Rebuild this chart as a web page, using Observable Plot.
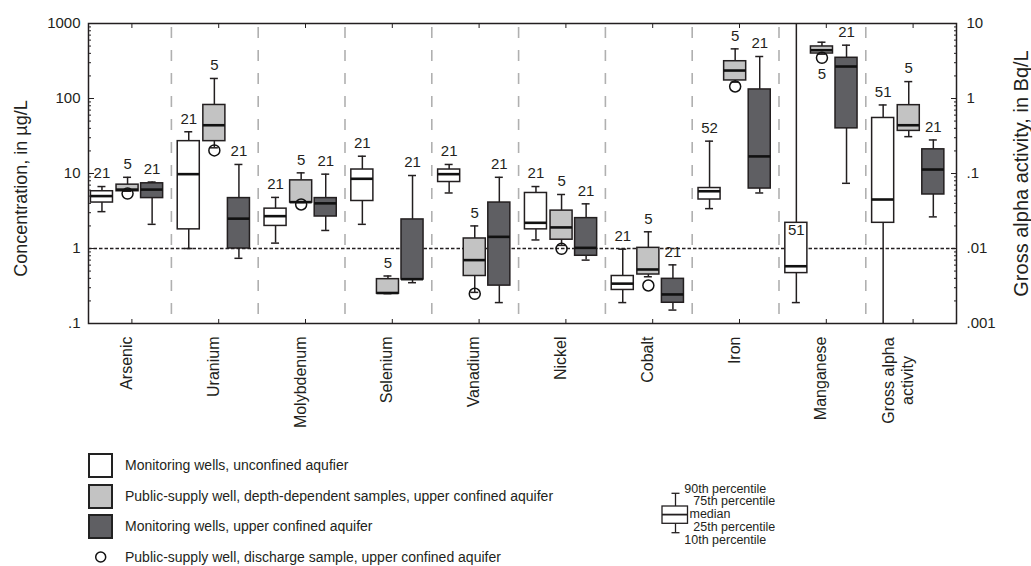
<!DOCTYPE html>
<html>
<head>
<meta charset="utf-8">
<script src="https://cdn.jsdelivr.net/npm/d3@7"></script>
<script src="https://cdn.jsdelivr.net/npm/@observablehq/plot@0.6"></script>
<style>
  body { margin: 0; background: #fff; font-family: "Liberation Sans", Arial, sans-serif; color: #231f20; }
  #wrap { position: relative; width: 1031px; height: 566px; overflow: hidden; background: #fff; }
  #chart { position: absolute; left: 0; top: 0; }
  .lg-sq { position: absolute; width: 25px; height: 25px; box-sizing: border-box; border: 2px solid #222; }
  .lg-tx { position: absolute; font-size: 14px; line-height: 16px; white-space: nowrap; }
  #key { position: absolute; left: 0; top: 0; }
</style>
</head>
<body>
<div id="wrap">
  <div id="chart"></div>
  <div id="legend"></div>
  <svg id="key" width="1031" height="566"></svg>
</div>
<script>
// ---------------- data ----------------
const categories = ["Arsenic", "Uranium", "Molybdenum", "Selenium", "Vanadium", "Nickel", "Cobalt", "Iron", "Manganese", "Gross alpha\nactivity"];
const units = ["µg/L", "µg/L", "µg/L", "µg/L", "µg/L", "µg/L", "µg/L", "µg/L", "µg/L", "Bq/L"];

const seriesNames = [
  "Monitoring wells, unconfined aqufier",
  "Public-supply well, depth-dependent samples, upper confined aquifer",
  "Monitoring wells, upper confined aquifer"
];
const dischargeName = "Public-supply well, discharge sample, upper confined aquifer";

// Monitoring wells, unconfined aquifer
const unconfinedP10 = [3.1, 1.0, 1.18, 2.1, 5.5, 1.3, 0.19, 3.4, 0.19, 0.0005];
const unconfinedP25 = [4.1, 1.8, 2.0, 4.3, 7.7, 1.8, 0.28, 4.5, 0.47, 0.022];
const unconfinedP50 = [5.0, 9.8, 2.7, 8.5, 9.8, 2.2, 0.34, 5.8, 0.58, 0.045];
const unconfinedP75 = [5.8, 27, 3.4, 11.3, 11.3, 5.5, 0.43, 6.4, 2.2, 0.55];
const unconfinedP90 = [6.7, 36, 4.8, 17, 13.2, 6.7, 0.98, 27, 1500, 0.82];
const unconfinedN   = [21, 21, 21, 21, 21, 21, 21, 52, 51, 51];

// Public-supply well, depth-dependent samples
const depthP10 = [5.8, 22, 4.1, 0.25, 0.26, 1.1, 0.42, 165, 390, 0.31];
const depthP25 = [5.8, 27, 4.1, 0.25, 0.43, 1.31, 0.45, 174, 398, 0.37];
const depthP50 = [6.1, 44, 4.15, 0.255, 0.70, 1.91, 0.525, 236, 440, 0.44];
const depthP75 = [7.1, 82, 8.1, 0.39, 1.36, 3.2, 1.02, 314, 494, 0.815];
const depthP90 = [8.9, 185, 10.2, 0.43, 2.0, 5.25, 1.67, 459, 563, 1.68];
const depthN   = [5, 5, 5, 5, 5, 5, 5, 5, 5, 5];

// Monitoring wells, upper confined aquifer
const confinedP10 = [2.1, 0.74, 1.74, 0.35, 0.19, 0.70, 0.151, 5.5, 7.4, 0.0264];
const confinedP25 = [4.7, 1.0, 2.67, 0.386, 0.32, 0.80, 0.189, 6.3, 40, 0.0525];
const confinedP50 = [6.1, 2.5, 4.0, 0.39, 1.43, 1.02, 0.244, 16.9, 267, 0.113];
const confinedP75 = [7.4, 4.7, 4.7, 2.44, 4.1, 2.54, 0.394, 132, 349, 0.21];
const confinedP90 = [7.7, 13.2, 9.8, 9.4, 8.9, 3.94, 0.605, 363, 514, 0.28];
const confinedN   = [21, 21, 21, 21, 21, 21, 21, 21, 21, 21];

// Public-supply well, discharge sample
const dischargeValues = [5.4, 20.3, 3.86, null, 0.249, 0.99, 0.321, 144.5, 349, null];

// axis ticks
const leftTickLabels  = ["1000", "100", "10", "1", ".1"];
const rightTickLabels = ["10", "1", ".1", ".01", ".001"];
const referenceLevel = [1];
const keyLabels = ["90th percentile", "75th percentile", "median", "25th percentile", "10th percentile"];

// ---------------- build ----------------
const fills = ["#ffffff", "#c3c3c3", "#5f5f63"];
const ink = "#231f20";
const bqToAxis = 100; // 1 Bq/L on the right axis lines up with 100 µg/L on the left axis
const conv = (v, i) => v == null ? null : (units[i] === "Bq/L" ? v * bqToAxis : v);

const seriesData = [
  [unconfinedP10, unconfinedP25, unconfinedP50, unconfinedP75, unconfinedP90, unconfinedN],
  [depthP10, depthP25, depthP50, depthP75, depthP90, depthN],
  [confinedP10, confinedP25, confinedP50, confinedP75, confinedP90, confinedN]
];
const offsets = [-0.345, -0.05, 0.233];
const hw = 0.127;   // half box width (in category units)
const cap = 0.046;  // half cap width

const rows = [];
seriesData.forEach(([p10, p25, p50, p75, p90, n], s) => {
  categories.forEach((c, i) => {
    rows.push({
      series: seriesNames[s], s, i, xc: i + offsets[s],
      p10: conv(p10[i], i), p25: conv(p25[i], i), p50: conv(p50[i], i),
      p75: conv(p75[i], i), p90: conv(p90[i], i), n: String(n[i])
    });
  });
});
const discharge = dischargeValues
  .map((v, i) => ({i, xc: i + offsets[1], v: conv(v, i)}))
  .filter(d => d.v != null);

const majorTicks = leftTickLabels.map((_, k) => Math.pow(10, 3 - k));
const leftLab = new Map(majorTicks.map((t, k) => [t, leftTickLabels[k]]));
const rightLab = new Map(majorTicks.map((t, k) => [t, rightTickLabels[k]]));
const minorTicks = [];
[0.1, 1, 10, 100].forEach(d => { for (let k = 2; k <= 9; k++) minorTicks.push(d * k); });
const catIdx = d3.range(categories.length);

const plot = Plot.plot({
  width: 1031, height: 440,
  marginLeft: 88, marginRight: 75, marginTop: 23, marginBottom: 117,
  style: {fontFamily: "'Liberation Sans', Arial, sans-serif", fontSize: "15px", color: ink, background: "white"},
  x: {type: "linear", domain: [-0.5, categories.length - 0.5]},
  y: {type: "log", domain: [0.1, 1000]},
  color: {domain: seriesNames, range: fills},
  marks: [
    // separators
    Plot.ruleX(d3.range(categories.length - 1), {x: i => i + 0.455, stroke: "#b0b0b0", strokeWidth: 1.6, strokeDasharray: "11,12", strokeDashoffset: -4}),
    Plot.ruleY(referenceLevel, {stroke: ink, strokeWidth: 1.3, strokeDasharray: "3.5,2"}),
    // whiskers
    Plot.ruleX(rows, {x: "xc", y1: "p75", y2: "p90", stroke: ink, strokeWidth: 1.5, clip: true}),
    Plot.ruleX(rows, {x: "xc", y1: "p10", y2: "p25", stroke: ink, strokeWidth: 1.5, clip: true}),
    Plot.ruleY(rows, {y: "p90", x1: d => d.xc - cap, x2: d => d.xc + cap, stroke: ink, strokeWidth: 1.5, clip: true}),
    Plot.ruleY(rows, {y: "p10", x1: d => d.xc - cap, x2: d => d.xc + cap, stroke: ink, strokeWidth: 1.5, clip: true}),
    // boxes
    Plot.rect(rows, {x1: d => d.xc - hw, x2: d => d.xc + hw, y1: "p25", y2: "p75", fill: "series", stroke: ink, strokeWidth: 1.5}),
    Plot.ruleY(rows, {y: "p50", x1: d => d.xc - hw, x2: d => d.xc + hw, stroke: "#111", strokeWidth: 2.6}),
    // discharge samples
    Plot.dot(discharge, {x: "xc", y: "v", r: 5.5, stroke: "#111", strokeWidth: 1.5, fill: "none"}),
    // sample counts
    Plot.text(rows.filter(d => d.p90 < 540), {x: "xc", y: "p90", text: "n", dy: -13, fontSize: 15, fill: ink}),
    Plot.text(rows.filter(d => d.p90 >= 540 && d.p90 < 1000), {x: "xc", y: "p10", text: "n", dy: 20, fontSize: 15, fill: ink}),
    Plot.text(rows.filter(d => d.p90 >= 1000), {x: "xc", y: "p75", text: "n", dy: 7, fontSize: 15, fill: ink}),
    // frame and axes
    Plot.frame({stroke: ink, strokeWidth: 1.5}),
    Plot.axisY(majorTicks, {anchor: "left", tickSize: -6, tickFormat: () => "", label: null, stroke: ink}),
    Plot.axisY(minorTicks, {anchor: "left", tickSize: -3, tickFormat: () => "", label: null, stroke: ink}),
    Plot.axisY(majorTicks, {anchor: "left", tickSize: 0, tickPadding: 8, tickFormat: d => leftLab.get(d), label: null, fontSize: 15, fill: ink}),
    Plot.axisY(majorTicks, {anchor: "right", tickSize: -6, tickFormat: () => "", label: null, stroke: ink}),
    Plot.axisY(minorTicks, {anchor: "right", tickSize: -3, tickFormat: () => "", label: null, stroke: ink}),
    Plot.axisY(majorTicks, {anchor: "right", tickSize: 0, tickPadding: 10, tickFormat: d => rightLab.get(d), label: null, fontSize: 15, fill: ink}),
    Plot.axisX(catIdx, {anchor: "top", tickSize: -4, tickFormat: () => "", label: null, stroke: ink}),
    Plot.axisX(catIdx, {anchor: "bottom", tickSize: -4, tickFormat: () => "", label: null, stroke: ink}),
    // category labels
    Plot.text(catIdx.filter(i => !categories[i].includes("\n")), {x: d => d, frameAnchor: "bottom", text: i => categories[i], rotate: -90, textAnchor: "end", dy: 13, fontSize: 16, fill: ink}),
    Plot.text(catIdx.filter(i => categories[i].includes("\n")), {x: d => d, frameAnchor: "bottom", text: i => categories[i], rotate: -90, textAnchor: "middle", lineHeight: 1.2, dy: 57, fontSize: 16, fill: ink}),
    // axis titles
    Plot.text(["Concentration, in µg/L"], {frameAnchor: "left", text: d => d, rotate: -90, textAnchor: "middle", dx: -67, dy: 15, fontSize: 18, fill: ink}),
    Plot.text(["Gross alpha activity, in Bq/L"], {frameAnchor: "right", text: d => d, rotate: -90, textAnchor: "middle", dx: 65, dy: 0, fontSize: 20, fill: ink})
  ]
});
document.getElementById("chart").appendChild(plot);

// ---------------- legend ----------------
const legend = document.getElementById("legend");
const rowCenters = [465, 496, 526, 557];
seriesNames.forEach((name, s) => {
  const sq = document.createElement("div");
  sq.className = "lg-sq";
  sq.style.left = "88px";
  sq.style.top = (rowCenters[s] - 12.5) + "px";
  sq.style.background = fills[s];
  legend.appendChild(sq);
  const tx = document.createElement("div");
  tx.className = "lg-tx";
  tx.style.left = "125px";
  tx.style.top = (rowCenters[s] - 8) + "px";
  tx.textContent = name;
  legend.appendChild(tx);
});
{
  const tx = document.createElement("div");
  tx.className = "lg-tx";
  tx.style.left = "125px";
  tx.style.top = (rowCenters[3] - 8) + "px";
  tx.textContent = dischargeName;
  legend.appendChild(tx);
}
// legend circle + box key (svg)
const key = d3.select("#key");
key.append("circle").attr("cx", 100.7).attr("cy", rowCenters[3]).attr("r", 5)
  .attr("fill", "none").attr("stroke", "#111").attr("stroke-width", 1.5);
const kx = 675.5;
const kg = key.append("g").attr("stroke", ink).attr("stroke-width", 1.3).attr("fill", "none");
kg.append("line").attr("x1", kx).attr("x2", kx).attr("y1", 493.3).attr("y2", 532.7);
kg.append("line").attr("x1", kx - 4).attr("x2", kx + 4).attr("y1", 493.3).attr("y2", 493.3);
kg.append("line").attr("x1", kx - 4).attr("x2", kx + 4).attr("y1", 532.7).attr("y2", 532.7);
kg.append("rect").attr("x", 662).attr("y", 506).attr("width", 25.5).attr("height", 17.3).attr("fill", "#fff");
kg.append("line").attr("x1", 662).attr("x2", 687.5).attr("y1", 514.6).attr("y2", 514.6).attr("stroke-width", 1.8);
const keyPos = [[684.3, 488.6], [693.3, 501], [689.5, 513.6], [693.3, 526.3], [684.3, 539.2]];
keyLabels.forEach((t, k) => {
  key.append("text").attr("x", keyPos[k][0]).attr("y", keyPos[k][1]).attr("dy", "0.35em")
    .attr("font-size", 12.5).attr("fill", ink)
    .attr("font-family", "'Liberation Sans', Arial, sans-serif").text(t);
});
</script>
</body>
</html>
